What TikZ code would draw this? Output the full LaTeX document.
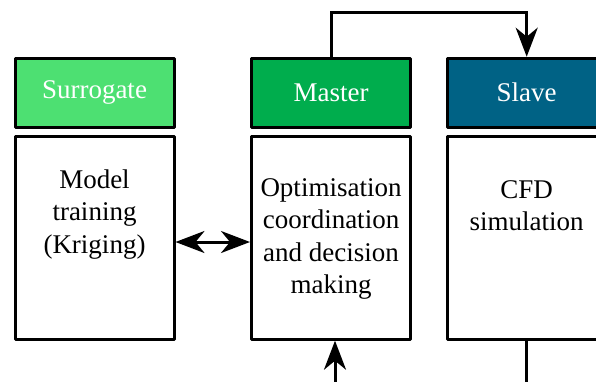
\documentclass[tikz,border=0pt]{standalone}
\usepackage{fontspec}
\setmainfont{Liberation Serif}
\usetikzlibrary{arrows.meta}
\definecolor{surrogategreen}{RGB}{77,224,114}
\definecolor{mastergreen}{RGB}{0,173,77}
\definecolor{slaveblue}{RGB}{0,98,133}

\tikzset{bigtip/.tip={Stealth[length=29pt 0 0,width=22pt 0 0,inset=9pt 0]}}

\begin{document}
\begin{tikzpicture}[x=1pt,y=-1pt,
  box/.style={draw=black, line width=3pt, line join=round, rectangle,
    inner sep=0pt, minimum width=159pt},
  header/.style={box, minimum height=69pt, text=white,
    font=\fontsize{27}{32.5}\selectfont},
  body/.style={box, fill=white, minimum height=203pt},
  bodytext/.style={align=center, inner sep=0pt, anchor=north,
    font=\fontsize{27}{32.5}\selectfont},
  link/.style={line width=3pt}
]
  \useasboundingbox (0,0) rectangle (596,381);
  \fill[white] (0,0) rectangle (596,381);
  \clip (0,0) rectangle (596,381);

  % column headers
  \node[header, fill=surrogategreen] (sh) at (94.5,92.7) {Surrogate};
  \node[header, fill=mastergreen]    (mh) at (331,92.7)  {Master};
  \node[header, fill=slaveblue]      (vh) at (526.7,92.7) {Slave};

  % column bodies
  \node[body] (sb) at (94.5,237.7) {};
  \node[body] (mb) at (331,237.7) {};
  \node[body] (vb) at (526.7,237.7) {};

  % body texts
  \node[bodytext] (st) at (94.5,169.5) {Model\\training\\(Kriging)};
  \node[bodytext] (mt) at (331,178) {Optimisation\\coordination\\and decision\\making};
  \node[bodytext] (vt) at (526.7,180) {CFD\\simulation};

  % free ends of the open connectors
  \coordinate (inlet) at (335,385);
  \coordinate (outlet) at (526.7,385);

  % connectors
  \draw[link, -{bigtip}] (mh.north) -- ++(0,-44.5) -| (vh.north);
  \draw[link, {bigtip}-{bigtip}] (sb.east |- 0,242) -- (mb.west |- 0,242);
  \draw[link, -{bigtip}] (inlet) -- (mb.south -| inlet);
  \draw[link] (vb.south) -- (outlet);
\end{tikzpicture}
\end{document}
